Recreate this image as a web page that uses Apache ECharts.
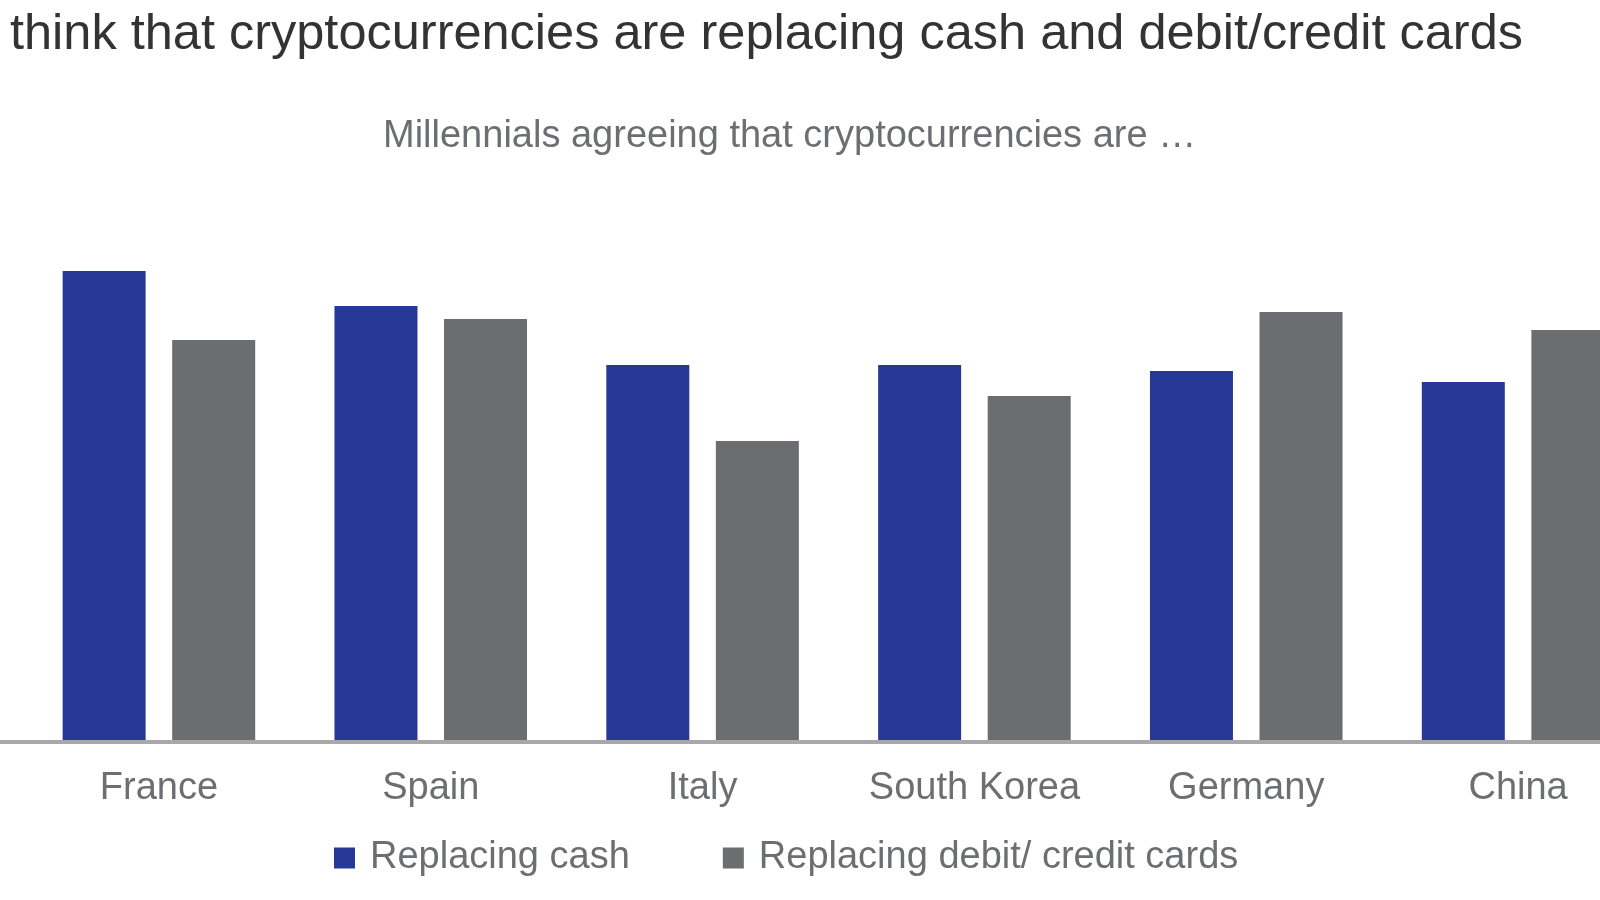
<!DOCTYPE html>
<meta charset="utf-8">
<title>Crypto replacing cash</title>
<style>
  html, body { margin: 0; padding: 0; background: #fff; overflow: hidden; }
  /* the chart runs past the right edge of the picture, as in the original crop */
  #main { width: 1660px; height: 900px; }
</style>
<body>
<div id="main"></div>
<script src="https://cdn.jsdelivr.net/npm/echarts@6/dist/echarts.min.js"></script>
<script>
  // data (percent of millennials, estimated)
  var countries = ['France', 'Spain', 'Italy', 'South Korea', 'Germany', 'China'];
  var replacingCash = [46.9, 43.4, 37.5, 37.5, 36.9, 35.8];
  var replacingCards = [40.0, 42.1, 29.9, 34.4, 42.8, 41.0];
  var seriesNames = ['Replacing cash', 'Replacing debit/ credit cards'];

  var FONT = '"Liberation Sans", Arial, sans-serif';
  var myChart = echarts.init(document.getElementById('main'));

  var option = {
    backgroundColor: '#fff',
    animation: false,
    title: [{
      text: 'think that cryptocurrencies are replacing cash and debit/credit cards',
      left: 10,
      top: 10,
      padding: 0,
      textStyle: { fontFamily: FONT, fontSize: 50.5, fontWeight: 'normal', color: '#333' }
    }, {
      text: 'Millennials agreeing that cryptocurrencies are …',
      left: 383,
      top: 118,
      padding: 0,
      textStyle: { fontFamily: FONT, fontSize: 38, fontWeight: 'normal', color: '#6d6e72' }
    }],
    legend: {
      data: seriesNames,
      left: 329,
      top: 834,
      itemWidth: 21,
      itemHeight: 21,
      itemGap: 93,
      icon: 'rect',
      textStyle: { fontFamily: FONT, fontSize: 38, color: '#6d6e72', padding: [0, 0, 0, 10] }
    },
    grid: { left: 23, top: 140, width: 1631, height: 600 },
    xAxis: {
      type: 'category',
      data: countries,
      axisLine: { show: false },
      axisTick: { show: false },
      axisLabel: { interval: 0, margin: 30, fontFamily: FONT, fontSize: 38, color: '#6d6e72' }
    },
    yAxis: {
      type: 'value',
      min: 0,
      max: 60,
      show: false,
      splitLine: { show: false }
    },
    series: [{
      name: seriesNames[0],
      type: 'bar',
      barWidth: 83,
      barGap: '32%',
      itemStyle: { color: '#263996' },
      data: replacingCash
    }, {
      name: seriesNames[1],
      type: 'bar',
      barWidth: 83,
      itemStyle: { color: '#6c6d71' },
      data: replacingCards
    }],
    graphic: [{
      type: 'line',
      z: 100,
      shape: { x1: 0, y1: 742, x2: 1660, y2: 742 },
      style: { stroke: '#a8a8a8', lineWidth: 4 }
    }]
  };

  myChart.setOption(option);
</script>
</body>
